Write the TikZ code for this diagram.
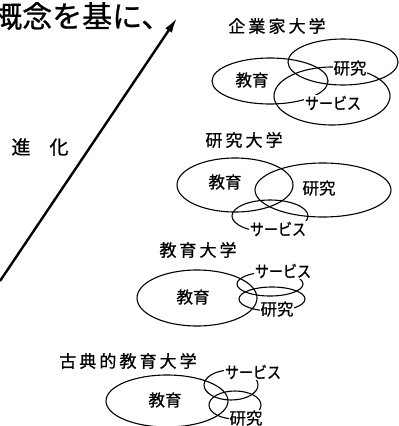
\documentclass[tikz,border=0pt]{standalone}
\usepackage{fontspec}
\newfontfamily\jp[FakeBold=0.8]{Noto Sans CJK JP}
\newfontfamily\jpwide[LetterSpace=18,FakeBold=0.8]{Noto Sans CJK JP}
\usetikzlibrary{arrows.meta}

\begin{document}
\begin{tikzpicture}[x=1pt, y=-1pt,
	every node/.style={font=\jp\fontsize{16.5}{18}\selectfont, inner sep=0.6pt},
	uni/.style={font=\jpwide\fontsize{17}{19}\selectfont},
	word/.style={fill=white},
	ring/.style={line width=1.1pt}]
	\useasboundingbox (0,0) rectangle (399,426);

	% headline and evolution arrow
	\node[anchor=west, inner sep=0, font=\jp\fontsize{30}{32}\selectfont] (Basis) at (-8,16) {概念を基に、};
	\node[font=\jp\fontsize{19}{21}\selectfont] (Evol) at (40,147) {進　化};
	\coordinate (Low) at (0,281);
	\coordinate (High) at (177,18);
	\draw[-{Latex[length=15pt,width=8pt]}, line width=2.4pt] (Low) -- (High);

	% entrepreneurial university
	\draw[ring] (270,81) ellipse [x radius=58, y radius=23];
	\draw[ring] (343,62) ellipse [x radius=55, y radius=23];
	\draw[ring] (332,96) ellipse [x radius=58, y radius=29];
	\node[uni] (EntTitle) at (277,26) {企業家大学};
	\node (EntEdu) at (252,80) {教育};
	\node[word] (EntRes) at (350,68) {研究};
	\node[word] (EntSrv) at (333,103) {\scalebox{0.85}[1]{サービス}};

	% research university
	\draw[ring] (235,185) ellipse [x radius=58, y radius=27];
	\draw[ring] (323,190) ellipse [x radius=68, y radius=27];
	\draw[ring] (270,216) ellipse [x radius=38, y radius=16];
	\node[uni] (ResTitle) at (244,140) {研究大学};
	\node (ResEdu) at (225,182) {教育};
	\node (ResRes) at (319,188) {研究};
	\node[word] (ResSrv) at (278,229) {\scalebox{0.85}[1]{サービス}};

	% teaching university
	\draw[ring] (197,298) ellipse [x radius=60, y radius=28];
	\draw[ring] (270,284) ellipse [x radius=33, y radius=12];
	\draw[ring] (272,299) ellipse [x radius=33, y radius=12];
	\node[uni] (EduTitle) at (198,250) {教育大学};
	\node (EduEdu) at (193,297) {教育};
	\node[word] (EduSrv) at (283,271) {\scalebox{0.85}[1]{サービス}};
	\node[word] (EduRes) at (277,309) {研究};

	% classical teaching university
	\draw[ring] (167,401) ellipse [x radius=61, y radius=26];
	\draw[ring] (231,385) ellipse [x radius=27, y radius=15];
	\draw[ring] (235,405) ellipse [x radius=26, y radius=14];
	\node[uni] (ClsTitle) at (128,361) {古典的教育大学};
	\node (ClsEdu) at (165,400) {教育};
	\node[word] (ClsSrv) at (253,372) {\scalebox{0.85}[1]{サービス}};
	\node[word] (ClsRes) at (246,418) {研究};
\end{tikzpicture}
\end{document}
